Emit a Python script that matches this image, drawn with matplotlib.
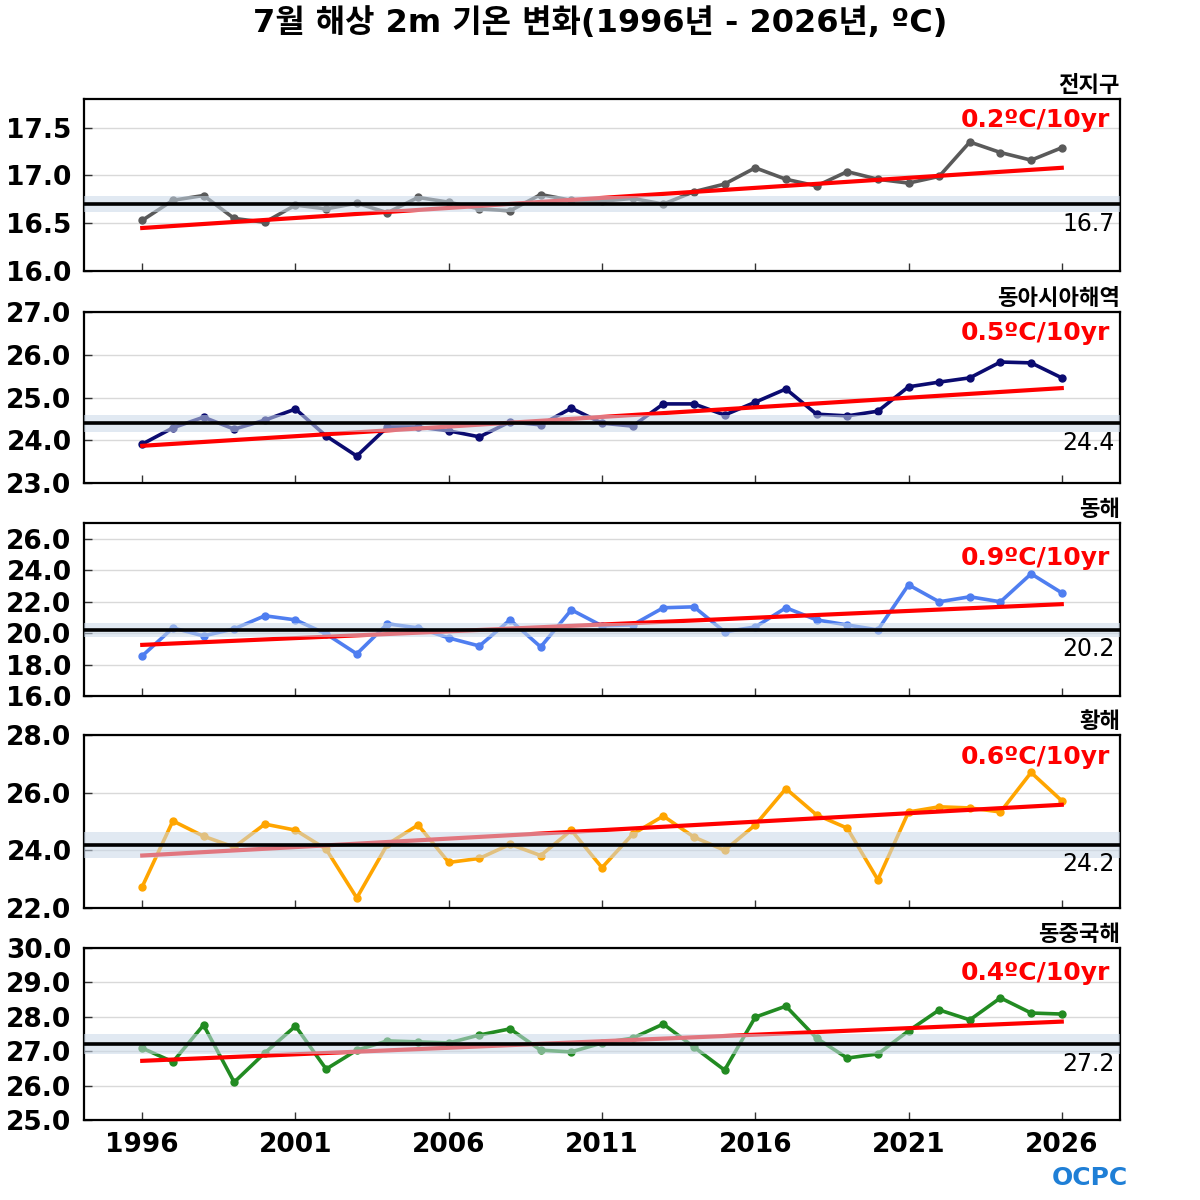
import numpy as np
import matplotlib.pyplot as plt

plt.rcParams['font.family'] = ['DejaVu Sans', 'Noto Sans CJK KR']

# Data
years = list(range(1996, 2027))

regions = ['전지구', '동아시아해역', '동해', '황해', '동중국해']

global_t = [16.53, 16.74, 16.79, 16.55, 16.51, 16.69, 16.65, 16.71, 16.61, 16.77,
            16.72, 16.65, 16.63, 16.80, 16.74, 16.73, 16.76, 16.70, 16.83, 16.91,
            17.08, 16.96, 16.89, 17.04, 16.96, 16.92, 16.99, 17.35, 17.24, 17.16, 17.29]
east_asia_t = [23.91, 24.29, 24.54, 24.26, 24.47, 24.73, 24.10, 23.63, 24.31, 24.31,
               24.22, 24.08, 24.43, 24.36, 24.75, 24.40, 24.33, 24.85, 24.85, 24.59,
               24.89, 25.20, 24.61, 24.57, 24.68, 25.25, 25.36, 25.46, 25.83, 25.81, 25.46]
east_sea_t = [18.55, 20.33, 19.82, 20.27, 21.10, 20.84, 19.95, 18.68, 20.59, 20.33,
              19.69, 19.18, 20.84, 19.12, 21.48, 20.46, 20.52, 21.61, 21.67, 20.08,
              20.39, 21.61, 20.84, 20.52, 20.20, 23.07, 21.99, 22.31, 21.99, 23.77, 22.56]
yellow_sea_t = [22.74, 25.02, 24.49, 24.11, 24.91, 24.70, 24.04, 22.35, 24.21, 24.88,
                23.58, 23.72, 24.21, 23.82, 24.70, 23.40, 24.56, 25.19, 24.46, 24.00,
                24.88, 26.14, 25.23, 24.77, 22.98, 25.33, 25.51, 25.47, 25.33, 26.70, 25.72]
east_china_sea_t = [27.09, 26.69, 27.76, 26.10, 26.95, 27.73, 26.48, 27.03, 27.30, 27.27,
                    27.24, 27.47, 27.65, 27.03, 26.98, 27.24, 27.38, 27.79, 27.12, 26.45,
                    27.99, 28.31, 27.38, 26.80, 26.92, 27.59, 28.20, 27.91, 28.55, 28.11, 28.08]
series = [global_t, east_asia_t, east_sea_t, yellow_sea_t, east_china_sea_t]

means = [16.7, 24.4, 20.2, 24.2, 27.2]
band_half = [0.08, 0.20, 0.42, 0.45, 0.29]
trend_start = [16.45, 23.87, 19.25, 23.82, 26.72]   # trend value at 1996
trend_end = [17.08, 25.22, 21.84, 25.58, 27.86]     # trend value at 2026
trend_labels = ['0.2ºC/10yr', '0.5ºC/10yr', '0.9ºC/10yr', '0.6ºC/10yr', '0.4ºC/10yr']

ylims = [(16.0, 17.8), (23.0, 27.0), (16.0, 27.0), (22.0, 28.0), (25.0, 30.0)]
yticks = [[16.0, 16.5, 17.0, 17.5], [23, 24, 25, 26, 27], [16, 18, 20, 22, 24, 26],
          [22, 24, 26, 28], [25, 26, 27, 28, 29, 30]]
xticks = [1996, 2001, 2006, 2011, 2016, 2021, 2026]

colors = ['#5a5a5a', '#0b0b70', '#4f7ef0', '#ffa500', '#228b22']
trend_text_y = [0.875, 0.875, 0.80, 0.87, 0.855]

fig = plt.figure(figsize=(12, 12), dpi=100)

# panel boxes in pixels (top, bottom)
boxes = [(99, 271), (312, 483), (523, 696), (735, 908), (948, 1120)]
left, right = 84, 1120

for i, (top, bot) in enumerate(boxes):
    ax = fig.add_axes([left / 1200, 1 - bot / 1200, (right - left) / 1200, (bot - top) / 1200])
    ax.set_xlim(1994.1, 2027.9)
    ax.set_ylim(*ylims[i])
    ax.set_yticks(yticks[i])
    ax.set_yticklabels(['%.1f' % v for v in yticks[i]], fontsize=19, fontweight='bold')
    ax.set_xticks(xticks)
    if i == len(boxes) - 1:
        ax.set_xticklabels([str(x) for x in xticks], fontsize=19, fontweight='bold')
    else:
        ax.set_xticklabels([])
    ax.tick_params(direction='in', length=6, width=1, colors='#333333', pad=9)
    ax.tick_params(labelcolor='black')
    ax.grid(axis='y', color='#d9d9d9', lw=1, zorder=0)
    for sp in ax.spines.values():
        sp.set_linewidth(1.6)

    ax.plot(years, series[i], color=colors[i], lw=2.6, marker='o', ms=5, zorder=3)
    ax.plot([years[0], years[-1]], [trend_start[i], trend_end[i]], color='red', lw=3, zorder=4)
    ax.axhspan(means[i] - band_half[i], means[i] + band_half[i],
               color='#c9d8e8', alpha=0.55, lw=0, zorder=5)
    ax.axhline(means[i], color='black', lw=2.6, zorder=6)

    ax.text(0.99, trend_text_y[i], trend_labels[i], transform=ax.transAxes,
            ha='right', va='center', color='red', fontsize=18, fontweight='bold', zorder=7)
    ax.annotate('%.1f' % means[i], xy=(0.995, means[i]), xycoords=('axes fraction', 'data'),
                xytext=(0, -14), textcoords='offset points', ha='right', va='center',
                fontsize=17, zorder=7)
    ax.text(1.0, 1.02, regions[i], transform=ax.transAxes, ha='right', va='bottom',
            fontsize=16, fontweight='bold')

fig.text(0.5, 0.981, '7월 해상 2m 기온 변화(1996년 - 2026년, ºC)', ha='center', va='center',
         fontsize=23, fontweight='bold')
fig.text(0.908, 0.018, 'OCPC', ha='center', va='center', fontsize=18, fontweight='bold',
         color='#1f7fd6')

plt.savefig('out.png', dpi=100)
